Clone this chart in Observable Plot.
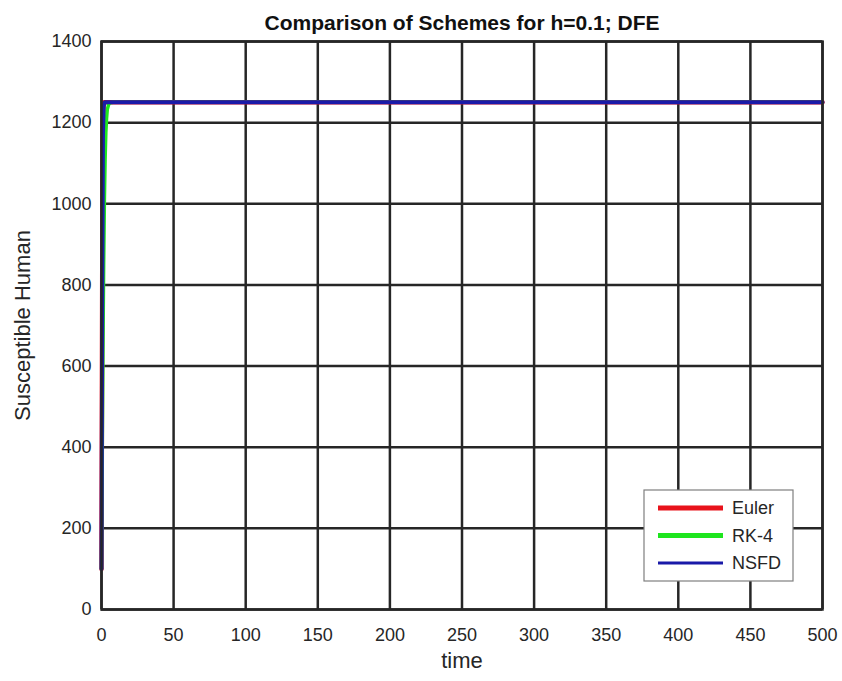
<!DOCTYPE html>
<html>
<head>
<meta charset="utf-8">
<script src="https://cdn.jsdelivr.net/npm/d3@7"></script>
<script src="https://cdn.jsdelivr.net/npm/@observablehq/plot@0.6"></script>
<style>
  html, body { margin: 0; padding: 0; background: #fff; }
  svg { display: block; }
</style>
</head>
<body>
<div id="chart"></div>
<script>
const titleText = "Comparison of Schemes for h=0.1; DFE";
const xLabel = "time";
const yLabel = "Susceptible Human";
const xTicks = [0, 50, 100, 150, 200, 250, 300, 350, 400, 450, 500];
const yTicks = [0, 200, 400, 600, 800, 1000, 1200, 1400];

const seriesNames = ["Euler", "RK-4", "NSFD"];
const seriesColors = ["#e8121b", "#1ee51e", "#1a1aa8"];
const seriesWidths = [4.5, 3.5, 4];

const time = [0, 0.5, 1, 1.5, 2, 2.5, 3, 3.5, 4, 5, 6, 8, 10, 20, 50, 100, 200, 300, 400, 500];
const euler = [100, 820, 1200, 1245, 1250, 1250, 1250, 1250, 1250, 1250, 1250, 1250, 1250, 1250, 1250, 1250, 1250, 1250, 1250, 1250];
const rk4   = [100, 380, 640, 850, 1010, 1110, 1175, 1210, 1232, 1245, 1249, 1250, 1250, 1250, 1250, 1250, 1250, 1250, 1250, 1250];
const nsfd  = [100, 760, 1170, 1240, 1249, 1250, 1250, 1250, 1250, 1250, 1250, 1250, 1250, 1250, 1250, 1250, 1250, 1250, 1250, 1250];

const seriesValues = [euler, rk4, nsfd];
const rows = [];
seriesNames.forEach((name, k) => {
  time.forEach((t, i) => rows.push({series: name, t, v: seriesValues[k][i]}));
});

const font = "'Liberation Sans', Arial, sans-serif";

const lineMarks = seriesNames.map((name, k) =>
  Plot.line(rows.filter(d => d.series === name), {
    x: "t", y: "v", stroke: seriesColors[k], strokeWidth: seriesWidths[k], curve: "linear"
  })
);

const chart = Plot.plot({
  width: 842,
  height: 681,
  marginLeft: 101,
  marginRight: 20,
  marginTop: 41,
  marginBottom: 72,
  style: { fontFamily: font, background: "#fff", color: "#262626" },
  x: { domain: [0, 500], ticks: xTicks, tickSize: 0, label: null },
  y: { domain: [0, 1400], ticks: yTicks, tickSize: 0, label: null },
  marks: [
    Plot.gridX(xTicks, { stroke: "#262626", strokeOpacity: 1, strokeWidth: 2.5 }),
    Plot.gridY(yTicks, { stroke: "#262626", strokeOpacity: 1, strokeWidth: 2.5 }),
    ...lineMarks,
    Plot.frame({ stroke: "#262626", strokeWidth: 2.5 }),
    Plot.axisX({ ticks: xTicks, tickSize: 0, tickPadding: 19, fontSize: 18, label: null, fill: "#262626", tickFormat: d3.format("d") }),
    Plot.axisY({ ticks: yTicks, tickSize: 0, tickPadding: 10, fontSize: 18, label: null, fill: "#262626", tickFormat: d3.format("d") }),
    Plot.text([titleText], { frameAnchor: "top", dy: -26, fontSize: 21, fontWeight: "bold", fill: "#111",
      fontFamily: "'Liberation Sans Narrow', 'Liberation Sans', Arial, sans-serif" }),
    Plot.text([xLabel], { frameAnchor: "bottom", dy: 58, fontSize: 22, fill: "#262626" }),
    Plot.text([yLabel], { frameAnchor: "left", dx: -79, rotate: -90, textAnchor: "middle", fontSize: 22, fill: "#262626" })
  ]
});

// Legend inside the plot (built from the same series arrays)
const svg = d3.select(chart);
const lg = svg.append("g").attr("transform", "translate(644,490)");
lg.append("rect").attr("width", 149).attr("height", 91).attr("fill", "#fff").attr("stroke", "#7f7f7f").attr("stroke-width", 1.2);
seriesNames.forEach((name, k) => {
  const y = 18 + k * 27.5;
  lg.append("line").attr("x1", 14).attr("x2", 79).attr("y1", y).attr("y2", y)
    .attr("stroke", seriesColors[k]).attr("stroke-width", k === 2 ? 3 : 5);
  lg.append("text").attr("x", 88).attr("y", y).attr("dy", "0.35em").attr("text-anchor", "start")
    .attr("font-size", 18).attr("font-family", font).attr("fill", "#262626").text(name);
});

document.getElementById("chart").appendChild(chart);
</script>
</body>
</html>
